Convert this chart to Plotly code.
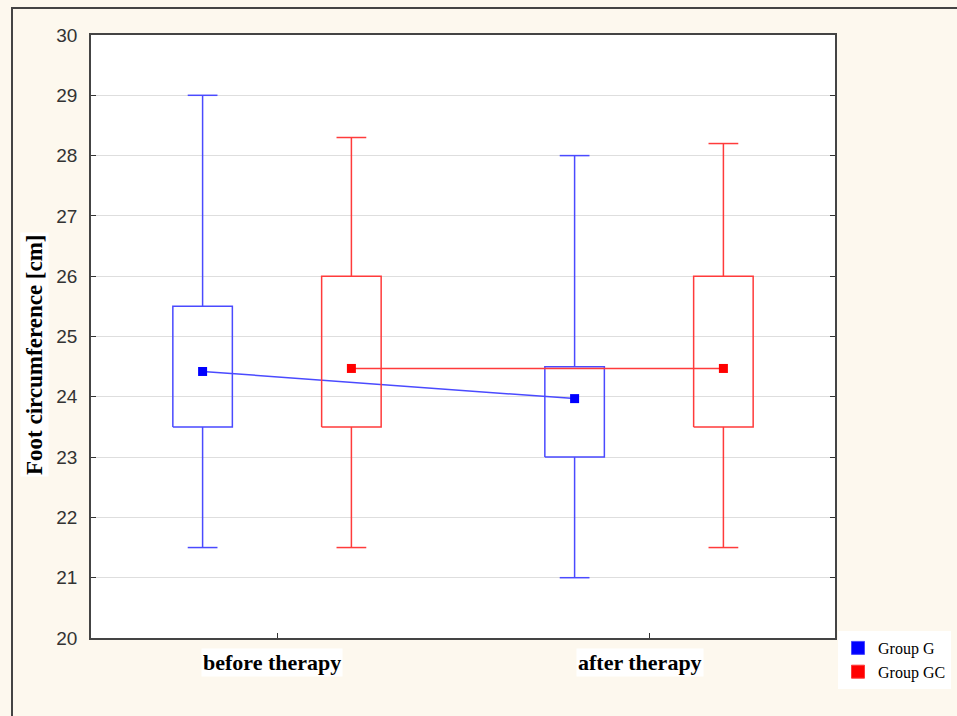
import plotly.graph_objects as go

categories = ["before therapy", "after therapy"]
groups = ["Group G", "Group GC"]

# per group, per category
g_min = [21.5, 21.0]
g_q1 = [23.5, 23.0]
g_mean = [24.42, 23.97]
g_q3 = [25.5, 24.5]
g_max = [29.0, 28.0]

gc_min = [21.5, 21.5]
gc_q1 = [23.5, 23.5]
gc_mean = [24.47, 24.47]
gc_q3 = [26.0, 26.0]
gc_max = [28.3, 28.2]

box_colors = ["#4a4aff", "#ff3b3b"]
mean_colors = ["#0000ff", "#ff0000"]
offsets = [-0.2, 0.2]
half_w = 0.08
cap_w = 0.04

fig = go.Figure()

data = [
    (g_min, g_q1, g_mean, g_q3, g_max),
    (gc_min, gc_q1, gc_mean, gc_q3, gc_max),
]

for gi, (mn, q1, mean, q3, mx) in enumerate(data):
    off = offsets[gi]
    col = box_colors[gi]
    xs, ys = [], []
    for ci in range(len(categories)):
        c = ci + off
        xs += [c - half_w, c + half_w, c + half_w, c - half_w, c - half_w, None]
        ys += [q1[ci], q1[ci], q3[ci], q3[ci], q1[ci], None]
        xs += [c, c, None, c - cap_w, c + cap_w, None]
        ys += [q3[ci], mx[ci], None, mx[ci], mx[ci], None]
        xs += [c, c, None, c - cap_w, c + cap_w, None]
        ys += [q1[ci], mn[ci], None, mn[ci], mn[ci], None]
    fig.add_trace(go.Scatter(x=xs, y=ys, mode="lines",
                             line=dict(color=col, width=1.5),
                             showlegend=False, hoverinfo="skip"))
    fig.add_trace(go.Scatter(x=[ci + off for ci in range(len(categories))], y=mean,
                             mode="lines+markers",
                             line=dict(color=col, width=1.5),
                             marker=dict(symbol="square", size=9, color=mean_colors[gi]),
                             showlegend=False))

for gi, name in enumerate(groups):
    fig.add_trace(go.Scatter(x=[None], y=[None], mode="markers", name=name,
                             marker=dict(symbol="square", size=13, color=mean_colors[gi],
                                         line=dict(color=box_colors[gi], width=1))))

L, R, T, B = 91, 122, 35, 78
W, H = 957, 716
pw, ph = W - L - R, H - T - B

for ci, cat in enumerate(categories):
    fig.add_annotation(x=ci, y=0, xref="x", yref="paper", yanchor="top",
                       yshift=-10, xshift=[-5, -9][ci],
                       text="<b>" + cat + "</b>", showarrow=False,
                       bgcolor="white",
                       font=dict(family="Liberation Serif", size=22, color="black"))

fig.add_annotation(x=(34 - L) / pw, y=(H - B - 355) / ph, xref="paper", yref="paper",
                   xanchor="center", yanchor="middle",
                   text="<b>Foot circumference [cm]</b>", textangle=-90, showarrow=False,
                   bgcolor="white",
                   font=dict(family="Liberation Serif", size=23, color="black"))

fig.add_shape(type="rect", xref="paper", yref="paper",
              x0=(12 - L) / pw, x1=(W + 10 - L) / pw,
              y0=(H - B - (H + 10)) / ph, y1=(H - B - 8) / ph,
              line=dict(color="#444444", width=2), fillcolor="rgba(0,0,0,0)", layer="below")

fig.update_layout(
    width=W, height=H,
    margin=dict(l=L, r=R, t=T, b=B, autoexpand=False),
    paper_bgcolor="#fdf8ee",
    plot_bgcolor="white",
    legend=dict(x=(838 - L) / pw, y=(H - B - 631) / ph, xanchor="left", yanchor="top",
                bgcolor="white", borderwidth=0,
                font=dict(family="Liberation Serif", size=16, color="black"),
                tracegroupgap=0, itemwidth=30),
)
fig.update_xaxes(range=[-0.5, 1.5], tickvals=[0, 1], ticktext=["", ""],
                 ticks="inside", ticklen=5, tickcolor="#333",
                 showgrid=False, zeroline=False,
                 showline=True, linecolor="#444", linewidth=1.5, mirror=True)
fig.update_yaxes(range=[20, 30], dtick=1, ticks="inside", ticklen=5, tickcolor="#333",
                 showgrid=True, gridcolor="#dedede", gridwidth=1, zeroline=False,
                 showline=True, linecolor="#444", linewidth=1.5, mirror="ticks",
                 tickfont=dict(family="Liberation Sans", size=19, color="#333"),
                 ticklabelstandoff=8)

fig.write_html("out.html")
